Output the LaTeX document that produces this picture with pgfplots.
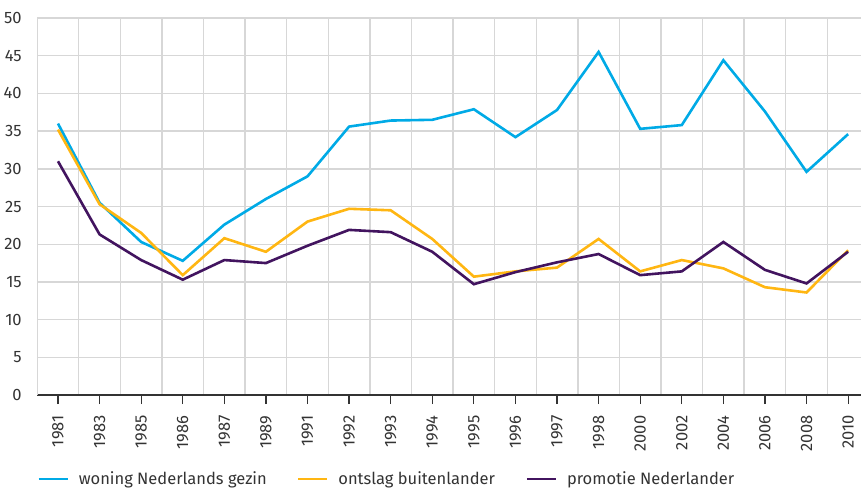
\documentclass[border=0pt]{standalone}
\usepackage{fontspec}
\setmainfont{Fira Sans}
\usepackage{pgfplots}
\pgfplotsset{compat=1.18}
\definecolor{cblue}{RGB}{0,170,230}
\definecolor{corange}{RGB}{255,182,18}
\definecolor{cpurple}{RGB}{66,20,95}
\definecolor{gridgray}{RGB}{215,215,215}
\definecolor{txt}{RGB}{51,51,51}
\begin{document}
\begin{tikzpicture}
\begin{axis}[
  scale only axis,
  width=823.7pt, height=377pt,
  xmin=-0.5, xmax=19.31,
  ymin=0, ymax=50,
  ytick={0,5,...,50},
  xtick={0,...,19},
  xticklabels={1981,1983,1985,1986,1987,1989,1991,1992,1993,1994,1995,1996,1997,1998,2000,2002,2004,2006,2008,2010},
  minor xtick={-0.5,0.5,1.5,2.5,3.5,4.5,5.5,6.5,7.5,8.5,9.5,10.5,11.5,12.5,13.5,14.5,15.5,16.5,17.5,18.5},
  minor tick length=0pt,
  ymajorgrids, xminorgrids,
  grid style={draw=gridgray, line width=1.4pt},
  minor grid style={draw=gridgray, line width=1.4pt},
  axis x line*=bottom,
  axis y line*=left,
  axis line style={-},
  x axis line style={draw=txt, line width=1.2pt},
  y axis line style={draw=gridgray, line width=1.4pt},
  ytick style={draw=none},
  xtick style={draw=txt, line width=1.2pt},
  major tick length=9pt,
  tick align=outside,
  /pgf/number format/assume math mode=true,
  tick label style={font=\fontsize{16.5}{19}\selectfont, text=txt},
  x tick label style={yshift=-8pt, rotate=90, anchor=east},
  y tick label style={xshift=-3pt},
  legend columns=3,
  legend style={at={(axis description cs:0,-0.2228)}, anchor=west, draw=none, fill=none, inner sep=0pt, outer sep=0pt,
    font=\fontsize{16.5}{19}\selectfont, text=txt,
    nodes={inner sep=0pt, outer sep=0pt},
    /tikz/every even column/.append style={column sep=0pt}},
  legend image code/.code={\draw[#1, line width=2.6pt] (0pt,0pt) -- (29pt,0pt); \path (39pt,0pt);},
  every axis plot/.append style={line width=2.6pt, line join=miter},
  clip=false,
]
\coordinate (bl) at (rel axis cs:0,0);
\coordinate (tr) at (rel axis cs:1,1);
\addplot[cblue, mark=none] coordinates {
(0,36.0) (1,25.5) (2,20.3) (3,17.8) (4,22.6) (5,26.0) (6,29.0) (7,35.6) (8,36.4) (9,36.5)
(10,37.9) (11,34.2) (12,37.8) (13,45.5) (14,35.3) (15,35.8) (16,44.4) (17,37.6) (18,29.6) (19,34.6)};
\addlegendentry{\makebox[218pt][l]{woning Nederlands gezin}}
\addplot[corange, mark=none] coordinates {
(0,35.2) (1,25.3) (2,21.5) (3,15.9) (4,20.8) (5,19.0) (6,23.0) (7,24.7) (8,24.5) (9,20.7)
(10,15.7) (11,16.4) (12,16.9) (13,20.7) (14,16.4) (15,17.9) (16,16.8) (17,14.3) (18,13.6) (19,19.2)};
\addlegendentry{\makebox[187pt][l]{ontslag buitenlander}}
\addplot[cpurple, mark=none] coordinates {
(0,31.0) (1,21.3) (2,17.9) (3,15.3) (4,17.9) (5,17.5) (6,19.8) (7,21.9) (8,21.6) (9,19.0)
(10,14.7) (11,16.3) (12,17.6) (13,18.7) (14,15.9) (15,16.4) (16,20.3) (17,16.6) (18,14.8) (19,19.0)};
\addlegendentry{promotie Nederlander}
\end{axis}
\pgfresetboundingbox
\path ([xshift=-37.2pt,yshift=-95pt]bl) rectangle ([yshift=18pt]tr);
\end{tikzpicture}
\end{document}
